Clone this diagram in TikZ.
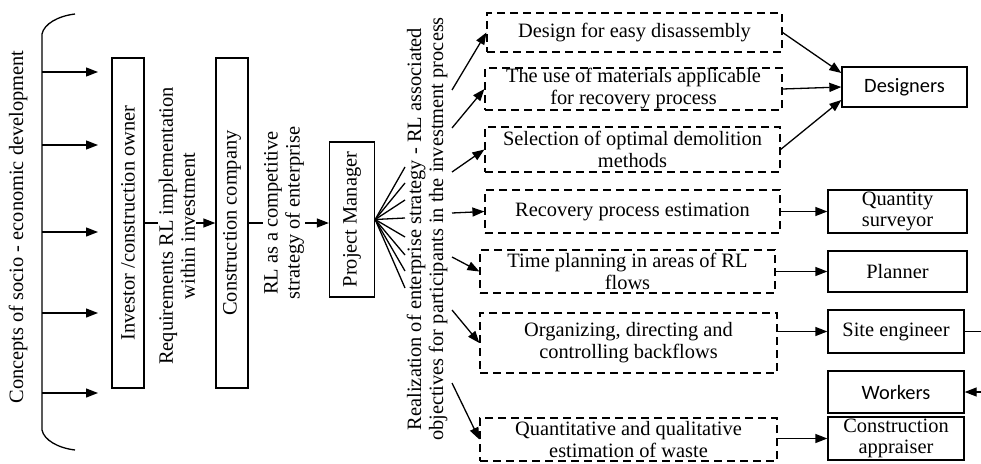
\documentclass[tikz,border=0pt]{standalone}
\usepackage{fontspec}
\setmainfont{Liberation Serif}
\newfontfamily\sansfnt{Carlito}
\usetikzlibrary{arrows.meta,positioning}

\begin{document}
\begin{tikzpicture}[x=1pt, y=-1pt, line width=1.3pt, >={Triangle[length=12pt,width=9pt]},
  every node/.style={font=\fontsize{20.4}{22}\selectfont},
  box/.style={draw, line width=1.3pt, inner sep=0pt, align=center},
  dbox/.style={draw, line width=1.2pt, dash pattern=on 8pt off 5pt, inner sep=0pt, align=center},
  lbl/.style={rotate=90, align=center, inner sep=1pt}]

  \useasboundingbox (0,0) rectangle (981,463);

  % Left bracket with the incoming concepts
  \draw (75,14) .. controls (58,16) and (44,24) .. (42,34) -- (42,430) .. controls (44,440) and (58,448) .. (75,450);
  \node[lbl] (concepts) at (18,227) {Concepts of socio - economic development};
  \foreach \y [count=\i] in {72,145,232,313,393} {
    \coordinate (b\i) at (42,\y);
    \coordinate (t\i) at (98,\y);
    \draw[->] (b\i) -- (t\i);
  }

  % Main chain
  \node[box, rotate=90, minimum width=330pt, minimum height=32pt] (investor) at (128,223) {Investor /construction owner};
  \node[box, rotate=90, minimum width=330pt, minimum height=32pt] (company) at (232,223) {Construction company};
  \node[box, rotate=90, minimum width=155pt, minimum height=45pt] (pm) at (352,219.5) {Project Manager};
  \draw[->] (investor.south) -- (company.north);
  \node[lbl, fill=white] (req) at (177,226) {Requirements RL implementation\\within investment};
  \draw[->] (company.south) -- (company.south -| pm.north);
  \node[lbl, fill=white] (rlstrat) at (284,213) {RL as a competitive\\strategy of enterprise};

  % Fan out of the project manager
  \foreach \y [count=\i] in {167,183,200,218,237,255,271,288} {
    \coordinate (f\i) at (405,\y);
    \draw (pm.south) -- (f\i);
  }
  \node[lbl] (realiz) at (427,229) {Realization of enterprise strategy - RL associated\\objectives for participants in the investment process};

  % Tasks (dashed)
  \node[dbox, minimum width=295pt, minimum height=39pt] (d1) at (634.5,32.5) {Design for easy disassembly};
  \node[dbox, minimum width=297pt, minimum height=42pt] (d2) at (633.5,89) {The use of materials applicable\\for recovery process};
  \node[dbox, minimum width=295pt, minimum height=45pt] (d3) at (632.5,149.5) {Selection of optimal demolition\\methods};
  \node[dbox, minimum width=295pt, minimum height=43pt] (d4) at (632.5,211.5) {Recovery process estimation};
  \node[dbox, minimum width=295pt, minimum height=43pt] (d5) at (627.5,271.5) {Time planning in areas of RL\\flows};
  \node[dbox, minimum width=297pt, minimum height=60pt] (d6) at (628.5,343) {Organizing, directing and\\controlling backflows};
  \node[dbox, minimum width=297pt, minimum height=43pt] (d7) at (628.5,439.5) {Quantitative and qualitative\\estimation of waste};

  \foreach \y/\t [count=\i] in {90/d1,128/d2,172/d3,213/d4,257/d5,310/d6,383/d7} {
    \coordinate (a\i) at (452,\y);
    \draw[->] (a\i) -- (\t.west);
  }

  % Participants
  \node[box, minimum width=125pt, minimum height=40pt, font=\sansfnt\fontsize{20.4}{22}\selectfont] (designers) at (904.5,87) {Designers};
  \node[box, minimum width=139pt, minimum height=43pt, font=\fontsize{20.4}{21}\selectfont] (qs) at (897.5,211.5) {Quantity\\surveyor};
  \node[box, minimum width=139pt, minimum height=41pt] (planner) at (897.5,271.5) {Planner};
  \node[box, minimum width=136pt, minimum height=43pt] (site) at (896,331.5) {Site engineer};
  \node[box, minimum width=136pt, minimum height=42pt, font=\sansfnt\fontsize{20.4}{22}\selectfont] (workers) at (896,392) {Workers};
  \node[box, minimum width=136pt, minimum height=43pt, font=\fontsize{20.4}{21}\selectfont] (appraiser) at (896,438.5) {Construction\\appraiser};

  \draw[->] (d1.east) -- ([yshift=14pt]designers.west);
  \draw[->] (d2.east) -- (designers.west);
  \draw[->] (d3.east) -- ([yshift=-13pt]designers.west);
  \draw[->] (d4.east) -- (qs.west);
  \draw[->] (d5.east) -- (planner.west);
  \draw[->] (site.west -| d6.east) -- (site.west);
  \draw[->] (appraiser.west -| d7.east) -- (appraiser.west);

  % Off to the right
  \coordinate (siteout) at (981,331.5);
  \coordinate (wkin) at (981,392);
  \draw (site.east) -- (siteout);
  \draw[->] (wkin) -- (workers.east);
\end{tikzpicture}
\end{document}
